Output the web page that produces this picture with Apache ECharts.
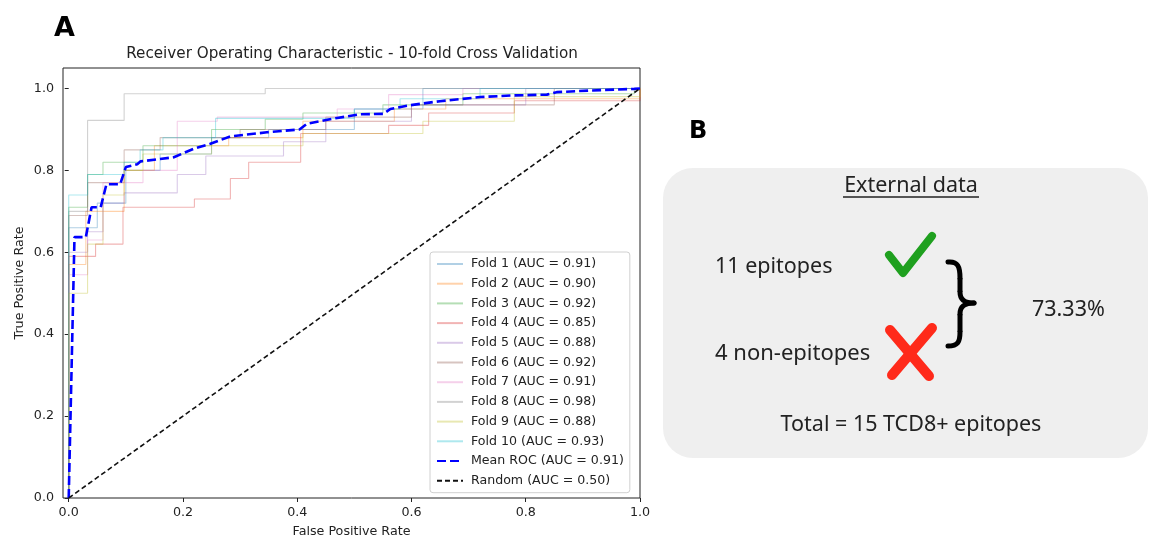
<!DOCTYPE html>
<html>
<head>
<meta charset="utf-8">
<script src="https://cdn.jsdelivr.net/npm/echarts@6/dist/echarts.min.js"></script>
<style>
    html, body { margin: 0; padding: 0; background: #fff; }
    #chart { width: 1150px; height: 538px; }
</style>
</head>
<body>
<div id="chart"></div>
<script>
// ROC data per fold (step curves)
const fold1Fpr = [0, 0, 0.05, 0.05, 0.10, 0.10, 0.16, 0.16, 0.25, 0.25, 0.35, 0.35, 0.50, 0.50, 0.62, 0.62, 1];
const fold1Tpr = [0, 0.66, 0.66, 0.72, 0.72, 0.80, 0.80, 0.84, 0.84, 0.88, 0.88, 0.90, 0.90, 0.95, 0.95, 1, 1];
const fold2Fpr = [0, 0, 0.03, 0.03, 0.097, 0.097, 0.15, 0.15, 0.28, 0.28, 0.41, 0.41, 0.57, 0.57, 0.66, 0.66, 1, 1];
const fold2Tpr = [0, 0.57, 0.57, 0.70, 0.70, 0.80, 0.80, 0.86, 0.86, 0.88, 0.88, 0.92, 0.92, 0.95, 0.95, 0.975, 0.975, 1];
const fold3Fpr = [0, 0, 0.033, 0.033, 0.06, 0.06, 0.13, 0.13, 0.25, 0.25, 0.344, 0.344, 0.41, 0.41, 0.55, 0.55, 0.69, 0.69, 0.99, 0.99, 1];
const fold3Tpr = [0, 0.71, 0.71, 0.79, 0.79, 0.82, 0.82, 0.86, 0.86, 0.90, 0.90, 0.925, 0.925, 0.94, 0.94, 0.96, 0.96, 0.987, 0.987, 1, 1];
const fold4Fpr = [0, 0, 0.047, 0.047, 0.095, 0.095, 0.22, 0.22, 0.283, 0.283, 0.315, 0.315, 0.406, 0.406, 0.56, 0.56, 0.63, 0.63, 0.78, 0.78, 1, 1];
const fold4Tpr = [0, 0.59, 0.59, 0.62, 0.62, 0.71, 0.71, 0.73, 0.73, 0.78, 0.78, 0.82, 0.82, 0.89, 0.89, 0.91, 0.91, 0.94, 0.94, 0.97, 0.97, 1];
const fold5Fpr = [0, 0, 0.033, 0.033, 0.06, 0.06, 0.097, 0.097, 0.19, 0.19, 0.24, 0.24, 0.376, 0.376, 0.45, 0.45, 0.60, 0.60, 0.80, 0.80, 1];
const fold5Tpr = [0, 0.60, 0.60, 0.65, 0.65, 0.72, 0.72, 0.745, 0.745, 0.79, 0.79, 0.835, 0.835, 0.87, 0.87, 0.92, 0.92, 0.96, 0.96, 1, 1];
const fold6Fpr = [0, 0, 0.033, 0.033, 0.097, 0.097, 0.16, 0.16, 0.30, 0.30, 0.45, 0.45, 0.60, 0.60, 0.85, 0.85, 1];
const fold6Tpr = [0, 0.69, 0.69, 0.77, 0.77, 0.85, 0.85, 0.88, 0.88, 0.90, 0.90, 0.93, 0.93, 0.96, 0.96, 1, 1];
const fold7Fpr = [0, 0, 0.033, 0.033, 0.06, 0.06, 0.13, 0.13, 0.19, 0.19, 0.26, 0.26, 0.47, 0.47, 0.56, 0.56, 0.69, 0.69, 1];
const fold7Tpr = [0, 0.545, 0.545, 0.63, 0.63, 0.77, 0.77, 0.80, 0.80, 0.92, 0.92, 0.93, 0.93, 0.95, 0.95, 0.985, 0.985, 1, 1];
const fold8Fpr = [0, 0, 0.033, 0.033, 0.097, 0.097, 0.344, 0.344, 1];
const fold8Tpr = [0, 0.70, 0.70, 0.922, 0.922, 0.987, 0.987, 1, 1];
const fold9Fpr = [0, 0, 0.033, 0.033, 0.06, 0.06, 0.097, 0.097, 0.13, 0.13, 0.25, 0.25, 0.41, 0.41, 0.62, 0.62, 0.78, 0.78, 1, 1];
const fold9Tpr = [0, 0.50, 0.50, 0.62, 0.62, 0.74, 0.74, 0.80, 0.80, 0.84, 0.84, 0.86, 0.86, 0.89, 0.89, 0.92, 0.92, 0.98, 0.98, 1];
const fold10Fpr = [0, 0, 0.033, 0.033, 0.097, 0.097, 0.125, 0.125, 0.165, 0.165, 0.257, 0.257, 0.50, 0.50, 0.58, 0.58, 0.72, 0.72, 1];
const fold10Tpr = [0, 0.74, 0.74, 0.79, 0.79, 0.82, 0.82, 0.85, 0.85, 0.88, 0.88, 0.927, 0.927, 0.95, 0.95, 0.975, 0.975, 1, 1];
const foldAuc = ['0.91', '0.90', '0.92', '0.85', '0.88', '0.92', '0.91', '0.98', '0.88', '0.93'];

const meanFpr = [0, 0.0101, 0.03, 0.04, 0.056, 0.066, 0.09, 0.10, 0.12, 0.126, 0.184, 0.219, 0.248, 0.283, 0.347, 0.404, 0.417, 0.47, 0.51, 0.551, 0.563, 0.592, 0.65, 0.72, 0.778, 0.837, 0.854, 0.913, 0.99, 1];
const meanTpr = [0, 0.637, 0.637, 0.71, 0.71, 0.766, 0.766, 0.808, 0.815, 0.822, 0.832, 0.853, 0.865, 0.883, 0.893, 0.900, 0.914, 0.928, 0.937, 0.938, 0.95, 0.958, 0.969, 0.979, 0.983, 0.985, 0.991, 0.995, 0.999, 1];
const meanAuc = '0.91';
const randomFpr = [0, 1];
const randomTpr = [0, 1];

const xTicks = [0, 0.2, 0.4, 0.6, 0.8, 1.0];
const yTicks = [0, 0.2, 0.4, 0.6, 0.8, 1.0];

const foldColors = ['#1f77b4', '#ff7f0e', '#2ca02c', '#d62728', '#9467bd', '#8c564b', '#e377c2', '#7f7f7f', '#bcbd22', '#17becf'];
const foldFpr = [fold1Fpr, fold2Fpr, fold3Fpr, fold4Fpr, fold5Fpr, fold6Fpr, fold7Fpr, fold8Fpr, fold9Fpr, fold10Fpr];
const foldTpr = [fold1Tpr, fold2Tpr, fold3Tpr, fold4Tpr, fold5Tpr, fold6Tpr, fold7Tpr, fold8Tpr, fold9Tpr, fold10Tpr];

const pairs = (xs, ys) => xs.map((x, i) => [x, ys[i]]);
const mplFont = 'DejaVu Sans';
const bFont = 'Noto Sans';

const series = foldFpr.map((xs, i) => ({
    name: 'Fold ' + (i + 1) + ' (AUC = ' + foldAuc[i] + ')',
    type: 'line',
    symbol: 'none',
    silent: true,
    data: pairs(xs, foldTpr[i]),
    lineStyle: { color: foldColors[i], width: 1.1, opacity: 0.35 },
    itemStyle: { color: foldColors[i] }
}));
series.push({
    name: 'Mean ROC (AUC = ' + meanAuc + ')',
    type: 'line',
    symbol: 'none',
    data: pairs(meanFpr, meanTpr),
    lineStyle: { color: '#0000ff', width: 2.6, type: [9, 4] },
    itemStyle: { color: '#0000ff' }
});
series.push({
    name: 'Random (AUC = 0.50)',
    type: 'line',
    symbol: 'none',
    data: pairs(randomFpr, randomTpr),
    lineStyle: { color: '#111', width: 1.6, type: [5, 3] },
    itemStyle: { color: '#111' }
});

const chart = echarts.init(document.getElementById('chart'));
chart.setOption({
    backgroundColor: '#fff',
    animation: false,
    grid: {
        left: 63, right: 510, top: 68, bottom: 40,
        outerBoundsMode: 'none',
        show: true, borderColor: '#222', borderWidth: 1, backgroundColor: 'transparent'
    },
    xAxis: {
        type: 'value',
        min: -0.01,
        max: 1.0,
        name: 'False Positive Rate',
        nameLocation: 'middle',
        nameGap: 27,
        nameTextStyle: { fontFamily: mplFont, fontSize: 12.7, color: '#222' },
        axisLine: { show: false },
        splitLine: { show: false },
        axisTick: { show: true, length: 4, customValues: xTicks, lineStyle: { color: '#222' } },
        axisLabel: {
            customValues: xTicks, margin: 8, fontFamily: mplFont, fontSize: 12.7, color: '#222',
            formatter: v => v.toFixed(1)
        }
    },
    yAxis: {
        type: 'value',
        min: 0,
        max: 1.05,
        name: 'True Positive Rate',
        nameLocation: 'middle',
        nameGap: 37,
        nameMoveOverlap: false,
        nameTextStyle: { fontFamily: mplFont, fontSize: 12.7, color: '#222' },
        axisLine: { show: false },
        splitLine: { show: false },
        axisTick: { show: true, length: 4, customValues: yTicks, lineStyle: { color: '#222' } },
        axisLabel: {
            customValues: yTicks, margin: 9, fontFamily: mplFont, fontSize: 12.7, color: '#222',
            formatter: v => v.toFixed(1)
        }
    },
    legend: {
        orient: 'vertical',
        left: 430,
        top: 252,
        padding: [5, 6, 5, 6],
        itemWidth: 26,
        itemHeight: 10,
        itemGap: 5.7,
        backgroundColor: 'rgba(255,255,255,0.8)',
        borderColor: '#d0d0d0',
        borderWidth: 1,
        borderRadius: 3,
        selectedMode: false,
        itemStyle: { opacity: 0 },
        textStyle: { fontFamily: mplFont, fontSize: 12.6, color: '#222', lineHeight: 14, padding: [0, 0, 0, 3] }
    },
    series: series,
    graphic: [
        { type: 'text', x: 54, y: 29, style: { text: 'A', font: '900 27px "DejaVu Sans"', fill: '#000', verticalAlign: 'middle' } },
        { type: 'text', x: 352, y: 54, style: { text: 'Receiver Operating Characteristic - 10-fold Cross Validation', fontFamily: mplFont, fontSize: 15.2, fill: '#222', align: 'center', verticalAlign: 'middle' } },
        // panel B
        { type: 'text', x: 689, y: 132, style: { text: 'B', font: '900 24px "DejaVu Sans"', fill: '#000', verticalAlign: 'middle' } },
        { type: 'rect', shape: { x: 663, y: 168, width: 485, height: 290, r: 30 }, style: { fill: '#efefef' } },
        { type: 'text', x: 911, y: 186, style: { text: 'External data', fontFamily: bFont, fontSize: 21.5, fill: '#222', align: 'center', verticalAlign: 'middle' } },
        { type: 'line', shape: { x1: 843, y1: 197, x2: 979, y2: 197 }, style: { stroke: '#222', lineWidth: 1.3 } },
        { type: 'text', x: 715, y: 267, style: { text: '11 epitopes', fontFamily: bFont, fontSize: 21.5, fill: '#222', verticalAlign: 'middle' } },
        { type: 'text', x: 715, y: 354, style: { text: '4 non-epitopes', fontFamily: bFont, fontSize: 22, fill: '#222', verticalAlign: 'middle' } },
        { type: 'polyline', shape: { points: [[889, 255], [903, 273], [932, 236]] }, style: { stroke: '#1fa01f', lineWidth: 8, lineCap: 'round', lineJoin: 'round', fill: null } },
        { type: 'line', shape: { x1: 890, y1: 330, x2: 929, y2: 376 }, style: { stroke: '#ff2a1a', lineWidth: 10, lineCap: 'round' } },
        { type: 'line', shape: { x1: 932, y1: 328, x2: 892, y2: 375 }, style: { stroke: '#ff2a1a', lineWidth: 10, lineCap: 'round' } },
        // brace
        { type: 'bezierCurve', shape: { x1: 948, y1: 262, cpx1: 958, cpy1: 261, cpx2: 960, cpy2: 267, x2: 960, y2: 278 }, style: { stroke: '#000', lineWidth: 5, lineCap: 'round', fill: null } },
        { type: 'line', shape: { x1: 960, y1: 278, x2: 960, y2: 292 }, style: { stroke: '#000', lineWidth: 5 } },
        { type: 'bezierCurve', shape: { x1: 960, y1: 292, cpx1: 960, cpy1: 300, cpx2: 965, cpy2: 303, x2: 974, y2: 303 }, style: { stroke: '#000', lineWidth: 5, lineCap: 'round', fill: null } },
        { type: 'bezierCurve', shape: { x1: 974, y1: 303, cpx1: 965, cpy1: 303, cpx2: 960, cpy2: 306, x2: 960, y2: 314 }, style: { stroke: '#000', lineWidth: 5, lineCap: 'round', fill: null } },
        { type: 'line', shape: { x1: 960, y1: 314, x2: 960, y2: 332 }, style: { stroke: '#000', lineWidth: 5 } },
        { type: 'bezierCurve', shape: { x1: 960, y1: 332, cpx1: 960, cpy1: 342, cpx2: 958, cpy2: 346, x2: 948, y2: 346 }, style: { stroke: '#000', lineWidth: 5, lineCap: 'round', fill: null } },
        { type: 'text', x: 1032, y: 310, style: { text: '73.33%', fontFamily: bFont, fontSize: 21.5, fill: '#222', verticalAlign: 'middle' } },
        { type: 'text', x: 911, y: 425, style: { text: 'Total = 15 TCD8+ epitopes', fontFamily: bFont, fontSize: 21.5, fill: '#222', align: 'center', verticalAlign: 'middle' } }
    ]
});
</script>
</body>
</html>
